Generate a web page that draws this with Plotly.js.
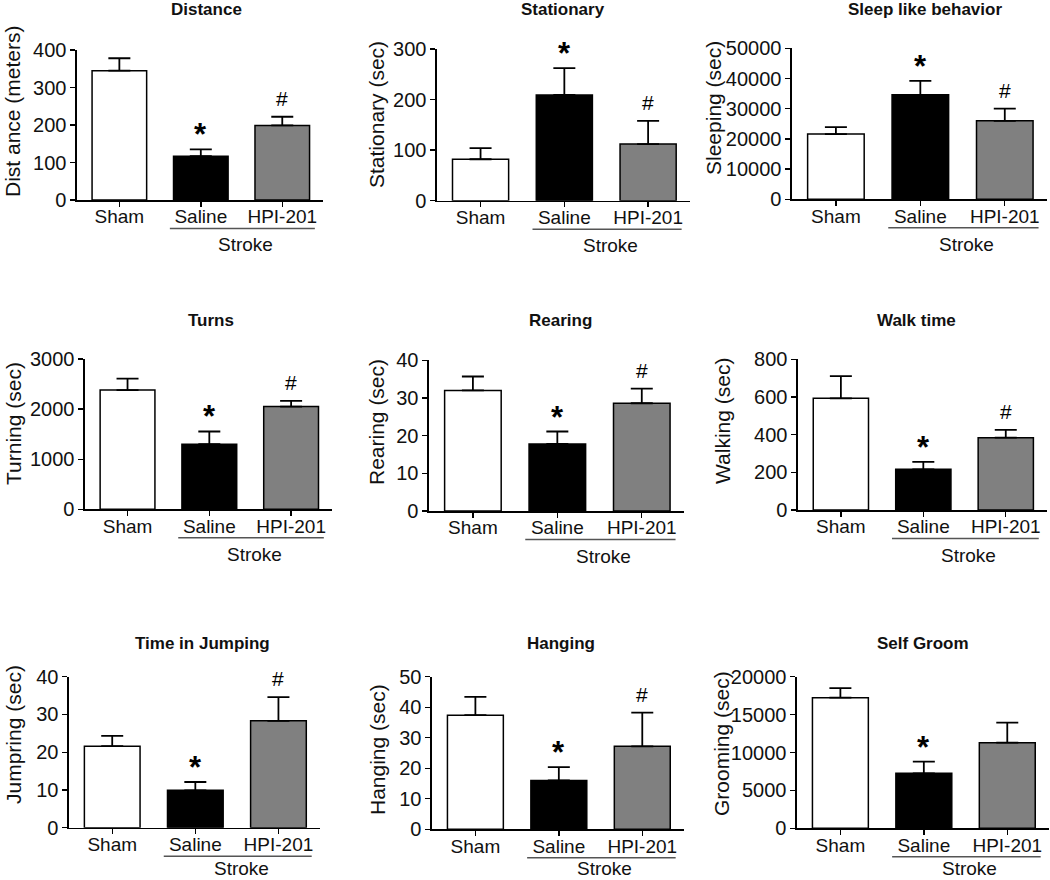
<!DOCTYPE html>
<html>
<head>
<meta charset="utf-8">
<script src="https://cdn.plot.ly/plotly-3.0.1.min.js"></script>
<style>html,body{margin:0;padding:0;background:#fff}</style>
</head>
<body>
<div id="plot" style="width:1050px;height:880px"></div>
<script>
// groups and colours
var groups = ['Sham', 'Saline', 'HPI-201'];
var barColors = ['#ffffff', '#000000', '#808080'];

var panelTitles = ['Distance', 'Stationary', 'Sleep like behavior',
                   'Turns', 'Rearing', 'Walk time',
                   'Time in Jumping', 'Hanging', 'Self Groom'];
var yTitles = ['Dist ance (meters)', 'Stationary (sec)', 'Sleeping (sec)',
               'Turning (sec)', 'Rearing (sec)', 'Walking (sec)',
               'Jumpring (sec)', 'Hanging (sec)', 'Grooming (sec)'];

// means and upper error (SEM)
var distance = [345, 117, 199],        distanceErr = [33, 18, 23];
var stationary = [82, 209, 112],       stationaryErr = [22, 53, 46];
var sleeping = [21600, 34600, 26000],  sleepingErr = [2300, 4600, 4000];
var turning = [2380, 1300, 2050],      turningErr = [227, 253, 113];
var rearing = [32.0, 17.8, 28.6],      rearingErr = [3.7, 3.3, 3.9];
var walking = [593, 216, 384],         walkingErr = [118, 39, 41];
var jumping = [21.6, 9.9, 28.3],       jumpingErr = [2.7, 2.2, 6.3];
var hanging = [37.4, 16.0, 27.2],      hangingErr = [6.0, 4.4, 11.0];
var grooming = [17230, 7250, 11300],   groomingErr = [1270, 1540, 2640];

var yMax  = [400, 300, 50000, 3000, 40, 800, 40, 50, 20000];
var yStep = [100, 100, 10000, 1000, 10, 200, 10, 10, 5000];

// significance marks: saline vs sham (*), HPI-201 vs saline (#)
var salineMark = ['*', '*', '*', '*', '*', '*', '*', '*', '*'];
var hpiMark    = ['#', '#', '#', '#', '#', '#', '#', '#', ''];

var means = [distance, stationary, sleeping, turning, rearing, walking, jumping, hanging, grooming];
var errs = [distanceErr, stationaryErr, sleepingErr, turningErr, rearingErr, walkingErr, jumpingErr, hangingErr, groomingErr];

// panel frames in page pixels: left, right, top (at yMax), bottom (at 0)
var frames = [
  [77, 323, 50, 200], [437, 690, 49, 200.7], [792, 1047, 48.3, 199.3],
  [85, 332, 359, 509.3], [429, 684, 360.3, 511], [798, 1047, 359.3, 510],
  [69, 320, 676.7, 827.7], [432, 684, 676.7, 829.3], [797, 1049, 676.7, 828.3]
];
var titlePos = [[206, 10], [563, 10], [925, 10], [211, 320], [560, 320], [916, 320],
                [202, 643], [561, 643], [923, 643]];
var yTitlePos = [[13, 111], [377, 115], [714, 108], [13, 424], [377, 422], [722, 421],
                 [13, 735], [377, 750], [721, 744]];

var W = 1050, H = 880;
var FONT = 'Liberation Sans, Arial, sans-serif';
var data = [];
var layout = {
  width: W, height: H,
  margin: {l: 0, r: 0, t: 0, b: 0},
  paper_bgcolor: '#fff', plot_bgcolor: 'rgba(0,0,0,0)',
  showlegend: false,
  font: {family: FONT, color: '#111'},
  annotations: [], shapes: []
};

for (var i = 0; i < 9; i++) {
  var n = i === 0 ? '' : String(i + 1);
  var f = frames[i];
  data.push({
    type: 'bar', x: groups, y: means[i], xaxis: 'x' + n, yaxis: 'y' + n,
    width: 0.67,
    marker: {color: barColors, line: {color: '#000', width: 1.5}},
    error_y: {type: 'data', symmetric: false, array: errs[i], arrayminus: [0, 0, 0],
              color: '#000', thickness: 1.8, width: 11},
    hoverinfo: 'skip'
  });
  layout['xaxis' + n] = {
    domain: [f[0] / W, f[1] / W], anchor: 'y' + n, type: 'category',
    range: [-0.52, 2.5], showgrid: false, zeroline: false,
    showline: true, linecolor: '#000', linewidth: 1.6,
    ticks: 'outside', ticklen: 5, tickwidth: 1.4, tickcolor: '#000',
    ticklabelstandoff: -6,
    tickfont: {size: 19, family: FONT, color: '#111'}, fixedrange: true
  };
  layout['yaxis' + n] = {
    domain: [1 - f[3] / H, 1 - f[2] / H], anchor: 'x' + n,
    range: [0, yMax[i]], dtick: yStep[i], tick0: 0, tickformat: 'd',
    showgrid: false, zeroline: false,
    showline: true, linecolor: '#000', linewidth: 1.6,
    ticks: 'outside', ticklen: 5, tickwidth: 1.4, tickcolor: '#000',
    tickfont: {size: 20, family: FONT, color: '#111'}, fixedrange: true
  };
  // panel title
  layout.annotations.push({
    text: '<b>' + panelTitles[i] + '</b>', xref: 'paper', yref: 'paper',
    x: titlePos[i][0] / W, y: 1 - titlePos[i][1] / H, xanchor: 'center', yanchor: 'middle',
    showarrow: false, font: {size: 17, family: FONT, color: '#111'}
  });
  // y axis title
  layout.annotations.push({
    text: yTitles[i], xref: 'paper', yref: 'paper', textangle: -90,
    x: yTitlePos[i][0] / W, y: 1 - yTitlePos[i][1] / H, xanchor: 'center', yanchor: 'middle',
    showarrow: false, font: {size: 21, family: FONT, color: '#111'}
  });
  // significance marks
  if (salineMark[i]) {
    layout.annotations.push({
      text: '<b>' + salineMark[i] + '</b>', xref: 'x' + n, yref: 'y' + n,
      x: 1, y: means[i][1] + errs[i][1], yanchor: 'bottom', yshift: -5,
      showarrow: false, font: {size: 31, family: FONT, color: '#000'}
    });
  }
  if (hpiMark[i]) {
    layout.annotations.push({
      text: hpiMark[i], xref: 'x' + n, yref: 'y' + n,
      x: 2, y: means[i][2] + errs[i][2], yanchor: 'bottom', yshift: 5,
      showarrow: false, font: {size: 21, family: FONT, color: '#000'}
    });
  }
  // Stroke bracket under Saline and HPI-201
  layout.shapes.push({
    type: 'line', xref: 'x' + n, yref: 'paper', x0: 0.62, x1: 2.4,
    y0: 1 - (f[3] + 28.5) / H, y1: 1 - (f[3] + 28.5) / H,
    line: {color: '#555', width: 1.4}
  });
  layout.annotations.push({
    text: 'Stroke', xref: 'x' + n, yref: 'paper', x: 1.55,
    y: 1 - Math.min(f[3] + 45, H - 12) / H,
    xanchor: 'center', yanchor: 'middle', showarrow: false,
    font: {size: 19, family: FONT, color: '#111'}
  });
}

Plotly.newPlot('plot', data, layout, {displayModeBar: false, staticPlot: true});
</script>
</body>
</html>
